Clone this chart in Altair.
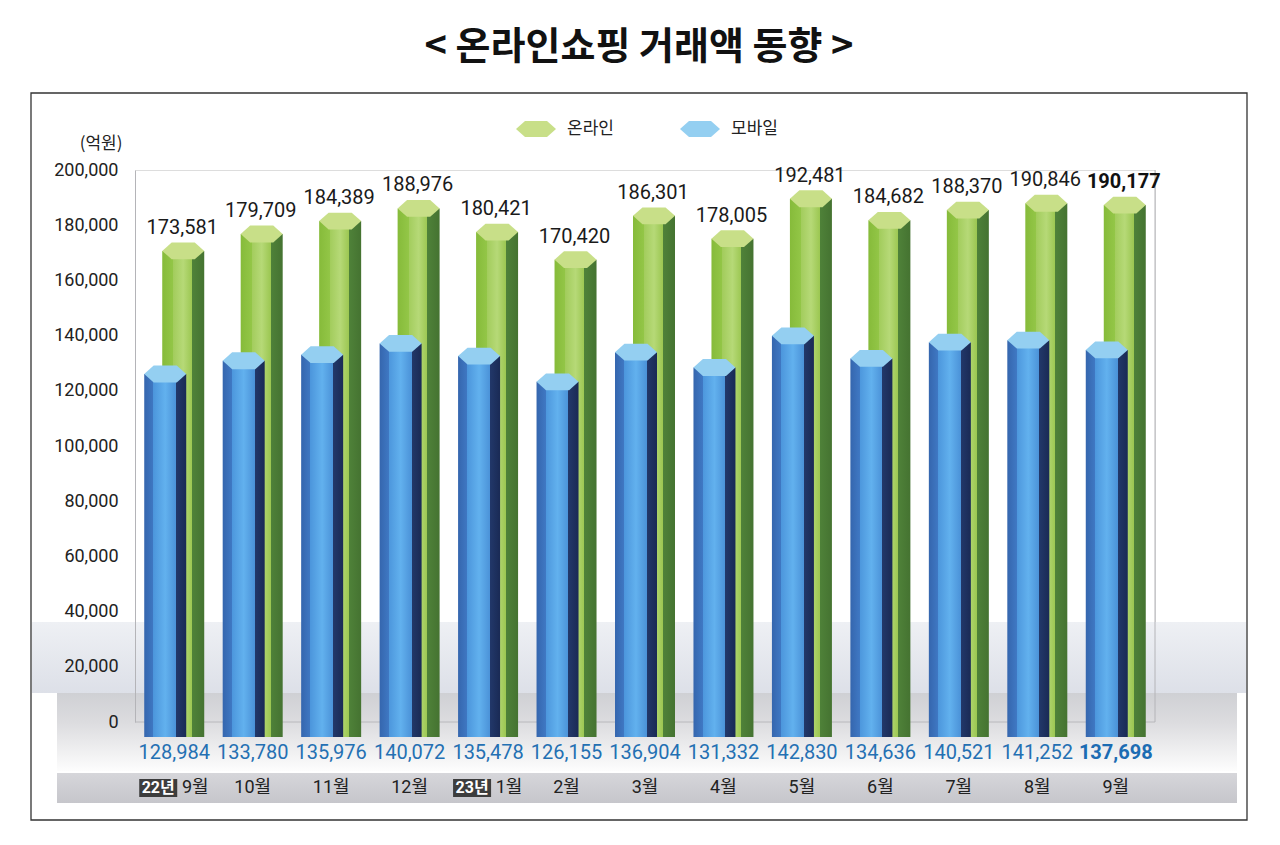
import altair as alt
import pandas as pd

# ---- data ----
periods = ["2022-09", "2022-10", "2022-11", "2022-12", "2023-01", "2023-02", "2023-03",
           "2023-04", "2023-05", "2023-06", "2023-07", "2023-08", "2023-09"]
month_labels = ["9월", "10월", "11월", "12월", "1월", "2월", "3월", "4월", "5월", "6월", "7월", "8월", "9월"]
year_tags = ["22년", "", "", "", "23년", "", "", "", "", "", "", "", ""]
online = [173581, 179709, 184389, 188976, 180421, 170420, 186301, 178005, 192481, 184682, 188370, 190846, 190177]
mobile = [128984, 133780, 135976, 140072, 135478, 126155, 136904, 131332, 142830, 134636, 140521, 141252, 137698]
series_names = ["온라인", "모바일"]
y_ticks = list(range(0, 200001, 20000))

rows = []
for i, p in enumerate(periods):
    rows.append({"period": p, "idx": i, "series": "온라인", "value": online[i],
                 "month": month_labels[i], "tag": year_tags[i]})
    rows.append({"period": p, "idx": i, "series": "모바일", "value": mobile[i],
                 "month": month_labels[i], "tag": year_tags[i]})
long = pd.DataFrame(rows)

W, H = 1020, 552
KR = "Noto Sans CJK KR"
NUM = "Roboto, sans-serif"
NUMKR = "Roboto, Noto Sans CJK KR, sans-serif"


def hgrad(stops):
    return {"gradient": "linear", "x1": 0, "x2": 1, "y1": 0, "y2": 0,
            "stops": [{"offset": o, "color": c} for o, c in stops]}


def vgrad(stops):
    return {"gradient": "linear", "x1": 0, "x2": 0, "y1": 0, "y2": 1,
            "stops": [{"offset": o, "color": c} for o, c in stops]}


blue_grad = hgrad([(0, "#3566ae"), (0.22, "#3f78c3"), (0.22, "#4c96dc"), (0.5, "#62b1ee"),
                   (0.76, "#4b92d8"), (0.76, "#22386a"), (1, "#1a2a55")])
green_grad = hgrad([(0, "#86bb3a"), (0.26, "#93c647"), (0.26, "#a2cc5c"), (0.5, "#b6d977"),
                    (0.71, "#9cc752"), (0.71, "#4f8239"), (1, "#457331")])

hex_path = "M-1,0L-0.55,-0.4L0.55,-0.4L1,0L0.55,0.4L-0.55,0.4Z"

x_enc = alt.X("period:N", sort=periods,
              scale=alt.Scale(paddingInner=0, paddingOuter=0),
              axis=alt.Axis(labels=False, ticks=False, title=None, domain=False))
y_scale = alt.Scale(domain=[0, 200000], nice=False)
y_axis = alt.Axis(values=y_ticks, format=",.0f", labelFont="Roboto", labelFontSize=18,
                  labelColor="#222222", labelPadding=17, ticks=False, grid=False, zindex=1,
                  domainColor="#b4b4b8", title="(억원)", titleAngle=0, titleFont=KR,
                  titleFontSize=17, titleFontWeight="normal", titleColor="#222222",
                  titleX=-13, titleY=-27, titleAlign="right", titleBaseline="middle")

color_enc = alt.Color("series:N",
                      scale=alt.Scale(domain=series_names, range=["#c8df88", "#94cff1"]),
                      legend=alt.Legend(title=None, orient="none", legendX=381, legendY=-61,
                                        direction="horizontal", symbolType=hex_path,
                                        symbolSize=1600, symbolStrokeWidth=0,
                                        labelFont=KR, labelFontSize=17, labelColor="#222222",
                                        labelOffset=11, columnPadding=66))

base = alt.Chart(long)
on = base.transform_filter(alt.datum.series == "온라인")
mo = base.transform_filter(alt.datum.series == "모바일")

# ---- decoration ----
deco = alt.Chart(pd.DataFrame({"k": [0]}))
wall = deco.mark_rect(color=vgrad([(0, "#eef0f4"), (1, "#dde0e8")])).encode(
    x=alt.value(-103), x2=alt.value(1111), y=alt.value(452), y2=alt.value(523))
floor = deco.mark_rect(color=vgrad([(0, "#cfd0d4"), (0.38, "#dcdcdf"), (1, "#fdfdfd")])).encode(
    x=alt.value(-78), x2=alt.value(1102), y=alt.value(523), y2=alt.value(601))
base_line = deco.mark_rule(color="#b8b8bc").encode(
    x=alt.value(0), x2=alt.value(W), y=alt.value(H))
band = deco.mark_rect(color=vgrad([(0, "#d6d6da"), (1, "#c6c6cb")])).encode(
    x=alt.value(-78), x2=alt.value(1102), y=alt.value(603), y2=alt.value(633))
frame = deco.mark_rect(fillOpacity=0, stroke="#333333", strokeWidth=1.3).encode(
    x=alt.value(-104), x2=alt.value(1112), y=alt.value(-77), y2=alt.value(650))
right_line = deco.mark_rule(color="#b4b4b8").encode(
    x=alt.value(W), y=alt.value(0), y2=alt.value(H))

# ---- bars ----
green_bar = on.mark_bar(width=42, xOffset=9, yOffset=8, y2Offset=15, color=green_grad).encode(
    x=x_enc, y=alt.Y("value:Q", scale=y_scale, axis=y_axis), y2=alt.datum(0))
green_cap = on.mark_point(shape=hex_path, size=1764, filled=True, opacity=1, strokeWidth=0,
                          xOffset=9, yOffset=8).encode(
    x=x_enc, y=alt.Y("value:Q", scale=y_scale), color=color_enc)
blue_bar = mo.mark_bar(width=42, xOffset=-9, yOffset=8, y2Offset=15, color=blue_grad).encode(
    x=x_enc, y=alt.Y("value:Q", scale=y_scale), y2=alt.datum(0))
blue_cap = mo.mark_point(shape=hex_path, size=1764, filled=True, opacity=1, strokeWidth=0,
                         xOffset=-9, yOffset=8).encode(
    x=x_enc, y=alt.Y("value:Q", scale=y_scale), color=color_enc)

# ---- labels ----
fmt = "format(datum.value, ',')"
green_lbl = on.transform_filter(alt.datum.idx < 12).transform_calculate(lbl=fmt).mark_text(
    font=NUM, fontSize=20, color="#1a1a1a", baseline="bottom", dy=-5, xOffset=8).encode(
    x=x_enc, y=alt.Y("value:Q", scale=y_scale), text="lbl:N")
green_lbl_b = on.transform_filter(alt.datum.idx == 12).transform_calculate(lbl=fmt).mark_text(
    font=NUM, fontSize=20, fontWeight="bold", color="#111111", baseline="bottom", dy=-5,
    xOffset=8).encode(x=x_enc, y=alt.Y("value:Q", scale=y_scale), text="lbl:N")
blue_lbl = mo.transform_filter(alt.datum.idx < 12).transform_calculate(lbl=fmt).mark_text(
    font=NUM, fontSize=20, color="#2470b3", baseline="middle").encode(
    x=x_enc, y=alt.value(583), text="lbl:N")
blue_lbl_b = mo.transform_filter(alt.datum.idx == 12).transform_calculate(lbl=fmt).mark_text(
    font=NUM, fontSize=20, fontWeight="bold", color="#1c6cb3", baseline="middle").encode(
    x=x_enc, y=alt.value(583), text="lbl:N")

month_plain = on.transform_filter(alt.datum.tag == "").mark_text(
    font=NUMKR, fontSize=18, color="#222222", baseline="middle").encode(
    x=x_enc, y=alt.value(618), text="month:N")
month_tagged = on.transform_filter(alt.datum.tag != "").mark_text(
    font=NUMKR, fontSize=18, color="#222222", baseline="middle", xOffset=21).encode(
    x=x_enc, y=alt.value(618), text="month:N")
tag_box = on.transform_filter(alt.datum.tag != "").mark_rect(
    width=38, xOffset=-16, color="#3d3d3d").encode(
    x=x_enc, y=alt.value(609), y2=alt.value(627))
tag_txt = on.transform_filter(alt.datum.tag != "").mark_text(
    font=NUMKR, fontSize=16, fontWeight="bold", color="#ffffff", baseline="middle",
    xOffset=-16).encode(x=x_enc, y=alt.value(618), text="tag:N")

chart = alt.layer(
    wall, floor, base_line, band, frame, right_line,
    green_bar, green_cap, blue_bar, blue_cap,
    green_lbl, green_lbl_b, blue_lbl, blue_lbl_b,
    tag_box, tag_txt, month_plain, month_tagged,
).properties(
    width=W, height=H,
    title=alt.Title("< 온라인쇼핑 거래액 동향 >", font=KR, fontSize=38, fontWeight="bold",
                    color="#111111", anchor="middle", frame="bounds", offset=25),
    autosize=alt.AutoSizeParams(type="none"),
    padding={"left": 127, "top": 162, "right": 117, "bottom": 105},
).configure_view(stroke=None).configure(background="white")

chart.save("out.html", embed_options={"renderer": "svg", "actions": False})
